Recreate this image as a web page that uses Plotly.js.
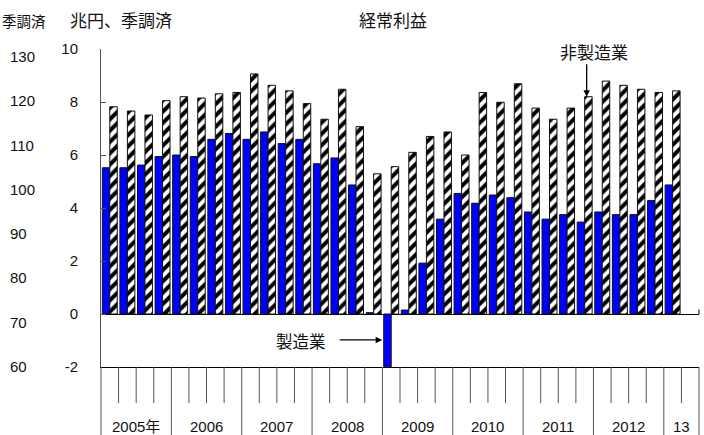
<!DOCTYPE html>
<html>
<head>
<meta charset="utf-8">
<script src="https://cdn.plot.ly/plotly-3.0.1.min.js"></script>
<style>
  html, body { margin: 0; padding: 0; background: #fff; }
  #chart { width: 704px; height: 435px; }
</style>
</head>
<body>
<div id="chart"></div>
<script>
// 経常利益（兆円、季調済）: 製造業・非製造業, 2005年1Q〜2013年1Q
const quarters = [
  '2005Q1','2005Q2','2005Q3','2005Q4',
  '2006Q1','2006Q2','2006Q3','2006Q4',
  '2007Q1','2007Q2','2007Q3','2007Q4',
  '2008Q1','2008Q2','2008Q3','2008Q4',
  '2009Q1','2009Q2','2009Q3','2009Q4',
  '2010Q1','2010Q2','2010Q3','2010Q4',
  '2011Q1','2011Q2','2011Q3','2011Q4',
  '2012Q1','2012Q2','2012Q3','2012Q4',
  '2013Q1'
];
const manufacturing = [
  5.52, 5.52, 5.62, 5.94,
  6.00, 5.94, 6.59, 6.81,
  6.59, 6.87, 6.43, 6.59,
  5.67, 5.89, 4.87, 0.05,
  -1.99, 0.15, 1.92, 3.58,
  4.55, 4.18, 4.49, 4.39,
  3.85, 3.58, 3.75, 3.47,
  3.85, 3.75, 3.75, 4.28,
  4.87
];
const nonManufacturing = [
  7.82, 7.66, 7.51, 8.05,
  8.20, 8.15, 8.31, 8.36,
  9.06, 8.63, 8.42, 7.94,
  7.35, 8.48, 7.07, 5.29,
  5.56, 6.10, 6.70, 6.87,
  6.00, 8.36, 7.99, 8.69,
  7.77, 7.35, 7.77, 8.20,
  8.79, 8.63, 8.48, 8.36,
  8.42
];
const yearLabels = ['2005年', '2006', '2007', '2008', '2009', '2010', '2011', '2012', '13'];
const yTicks = [-2, 0, 2, 4, 6, 8, 10];
const indexTicks = [60, 70, 80, 90, 100, 110, 120, 130];

// geometry of the page (pixels)
const W = 704, H = 435;
const ML = 0, MR = 5, MT = 49, MB = 68;
const plotW = W - ML - MR;          // paper width
const plotH = H - MT - MB;          // paper height
const axisLeft = 101;               // pixel where the bar area starts
const px = x => (x - ML) / plotW;   // pixel -> paper x
const py = y => (H - MB - y) / plotH; // pixel -> paper y

const slots = quarters.length + 1;  // one spare quarter slot at the end of 2013
const FONT = "'Liberation Sans', Arial, 'Noto Sans CJK JP', sans-serif";
const LINE = '#555';

const traces = [
  {
    type: 'bar', name: '製造業', x: quarters, y: manufacturing,
    marker: { color: '#0000ff', line: { color: '#111', width: 1 } },
    hoverinfo: 'x+y'
  },
  {
    type: 'bar', name: '非製造業', x: quarters, y: nonManufacturing,
    marker: {
      color: '#ffffff',
      line: { color: '#111', width: 1 },
      pattern: { shape: '/', fgcolor: '#000', bgcolor: '#fff', size: 8, solidity: 0.5 }
    },
    hoverinfo: 'x+y'
  },
  // carries the secondary index scale on the far left
  { type: 'scatter', x: [], y: [], yaxis: 'y2', hoverinfo: 'skip', showlegend: false }
];

// quarter grid below the plot: year boundaries run to the bottom edge
const shapes = [];
const bottom = py(H);
const tickBottom = py(403);
for (let k = 0; k <= slots; k++) {
  const isYear = (k % 4 === 0) || k === slots;
  const edge = (k === 0 || k === slots);
  shapes.push({
    type: 'line', layer: 'above',
    xref: edge ? 'paper' : 'x', yref: 'paper',
    x0: edge ? (k === 0 ? px(axisLeft) : 1) : k - 0.5,
    x1: edge ? (k === 0 ? px(axisLeft) : 1) : k - 0.5,
    y0: 0, y1: isYear ? bottom : tickBottom,
    line: { color: LINE, width: 1 }
  });
}
// small end tick on the zero line
shapes.push({
  type: 'line', xref: 'paper', yref: 'y', x0: 1, x1: 1, y0: 0, y1: 0.17,
  line: { color: '#000', width: 1 }
});

const annotations = [];
const yearStarts = [0, 4, 8, 12, 16, 20, 24, 28, 32];
yearLabels.forEach((t, i) => {
  const s = yearStarts[i];
  const e = i + 1 < yearStarts.length ? yearStarts[i + 1] : slots;
  annotations.push({
    text: t, xref: 'x', yref: 'paper', x: (s + e - 1) / 2, y: py(426),
    showarrow: false, xanchor: 'center', yanchor: 'middle',
    font: { size: 15, color: '#111' }
  });
});
const textNote = (t, x, y, anchor, size) => ({
  text: t, xref: 'paper', yref: 'paper', x: px(x), y: py(y),
  showarrow: false, xanchor: anchor, yanchor: 'middle',
  font: { size: size, color: '#111' }
});
annotations.push(textNote('季調済', 0, 22, 'left', 14.5));
annotations.push(textNote('兆円、季調済', 68, 22, 'left', 17));
annotations.push(textNote('経常利益', 393, 22, 'center', 17));
annotations.push(textNote('非製造業', 594, 53, 'center', 17));
annotations.push(textNote('製造業', 301, 342, 'center', 16.5));
// arrows pointing at the labelled bars
annotations.push({
  text: '', xref: 'x', yref: 'y', x: quarters[27], y: nonManufacturing[27],
  xshift: 2, ax: 0, ay: -34, showarrow: true,
  arrowhead: 2, arrowsize: 1, arrowwidth: 1.3, arrowcolor: '#000'
});
annotations.push({
  text: '', xref: 'x', yref: 'y', x: quarters[16], y: -0.98,
  xshift: -9, ax: -44, ay: 0, showarrow: true,
  arrowhead: 2, arrowsize: 1, arrowwidth: 1.3, arrowcolor: '#000'
});

const layout = {
  width: W, height: H,
  margin: { l: ML, r: MR, t: MT, b: MB, pad: 0 },
  paper_bgcolor: '#fff', plot_bgcolor: 'rgba(0,0,0,0)',
  font: { family: FONT, size: 15, color: '#111' },
  showlegend: false,
  barmode: 'group', bargap: 0.15, bargroupgap: 0,
  xaxis: {
    type: 'category', domain: [px(axisLeft), 1],
    range: [-0.5, slots - 0.5],
    showticklabels: false, ticks: '', showgrid: false, zeroline: false,
    showline: true, linecolor: '#000', linewidth: 1, fixedrange: true
  },
  yaxis: {
    range: [-2, 10], tickvals: yTicks, ticktext: yTicks.map(String),
    ticks: 'inside', ticklen: 5, tickcolor: LINE,
    showline: true, linecolor: LINE, linewidth: 1,
    showgrid: false, zeroline: true, zerolinecolor: '#000', zerolinewidth: 1,
    ticklabelstandoff: 19, tickfont: { size: 15 }, fixedrange: true
  },
  yaxis2: {
    overlaying: 'y', anchor: 'free', position: 0, side: 'right',
    range: [59.9, 60 + plotH / 4.43], tickvals: indexTicks,
    ticks: '', showline: false, showgrid: false, zeroline: false,
    ticklabelstandoff: 9, tickfont: { size: 15 }, fixedrange: true
  },
  shapes: shapes,
  annotations: annotations
};

Plotly.newPlot('chart', traces, layout, { displayModeBar: false, staticPlot: true });
</script>
</body>
</html>
